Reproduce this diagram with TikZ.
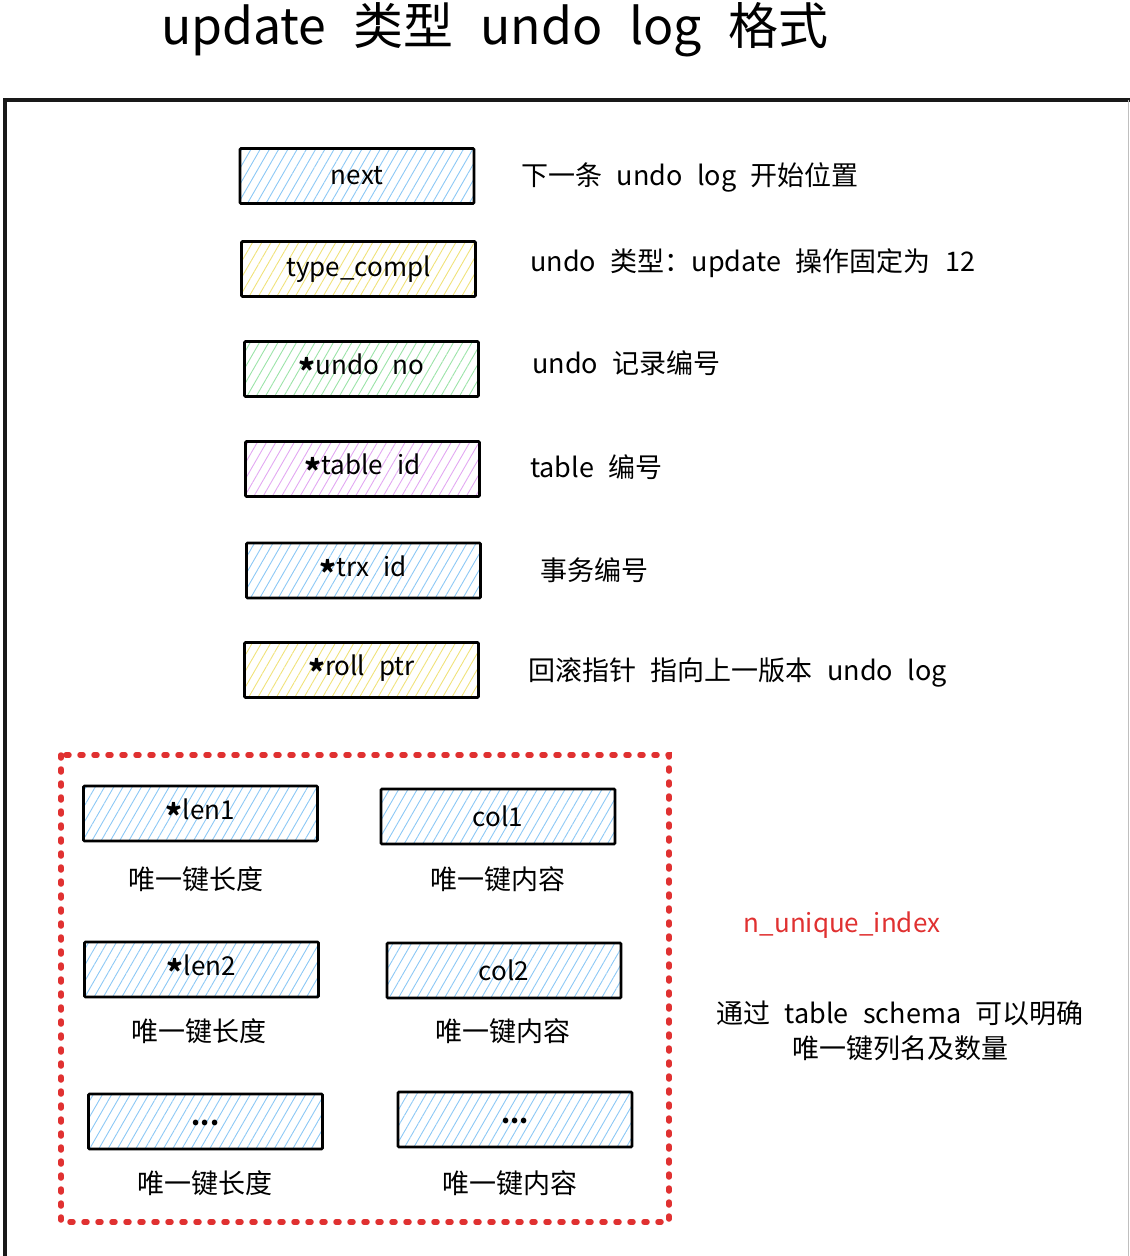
\documentclass[tikz,border=0pt]{standalone}
\usepackage{fontspec}
\setmainfont{Noto Sans CJK SC}[WordSpace=2.4]
\usetikzlibrary{patterns.meta}
\definecolor{hblue}{HTML}{8CC8F5}
\definecolor{hyellow}{HTML}{F0E27A}
\definecolor{hgreen}{HTML}{9BE3A8}
\definecolor{hviolet}{HTML}{E2A8F2}
\definecolor{dred}{HTML}{E03131}
\newcommand{\fstar}{\raisebox{-0.34em}{\fontsize{32}{32}\selectfont\textbf{*}}}
\newcommand{\fdots}{\raisebox{-0.3em}{\textbf{...}}}
\tikzset{
  field/.style={draw=black, line width=2.6pt, rounded corners=1pt,
    minimum width=234pt, minimum height=55pt, inner sep=0pt,
    font=\fontsize{26}{30}\selectfont,
    pattern={Lines[angle=60,distance=8pt,line width=0.9pt]}},
  fblue/.style={field, pattern color=hblue},
  fyellow/.style={field, pattern color=hyellow},
  fgreen/.style={field, pattern color=hgreen},
  fviolet/.style={field, pattern color=hviolet},
  desc/.style={anchor=west, inner sep=0pt, font=\fontsize{27}{32}\selectfont},
  sub/.style={inner sep=0pt, font=\fontsize{27}{32}\selectfont},
}
\begin{document}
\begin{tikzpicture}[x=1pt,y=-1pt]
\useasboundingbox (0,0) rectangle (1130,1256);
% title
\node[inner sep=0pt, anchor=base, font=\fontsize{50}{56}\selectfont] (title) at (495,44) {update 类型 undo log 格式};
% outer frame
\draw[line width=4.5pt, black!90] (5,1256) -- (5,100) -- (1130,100);
\draw[line width=1pt, black!25] (1128,100) -- (1128,1256);
% fields
\node[fblue]   (next) at (357,176)   {next};
\node[fyellow] (type) at (358.5,269) {type\_compl};
\node[fgreen]  (undo) at (361.5,369) {\fstar undo no};
\node[fviolet] (tab)  at (362.5,469) {\fstar table id};
\node[fblue]   (trx)  at (363.5,570.5) {\fstar trx id};
\node[fyellow] (roll) at (361.5,670) {\fstar roll ptr};
% descriptions
\node[desc] (dnext) at (521,177) {下一条 undo log 开始位置};
\node[desc] (dtype) at (530,263) {undo 类型：update 操作固定为 12};
\node[desc] (dundo) at (532,363) {undo 记录编号};
\node[desc] (dtab)  at (530,467) {table 编号};
\node[desc] (dtrx)  at (540,570) {事务编号};
\node[desc] (droll) at (528,672) {回滚指针 指向上一版本 undo log};
% unique index group
\draw[dred, line width=5.5pt, dash pattern=on 3pt off 11pt, line cap=round] (61,755) rectangle (669,1222);
\node[fblue] (len1) at (200.5,813.5) {\fstar len1};
\node[fblue] (col1) at (498,816.5) {col1};
\node[fblue] (len2) at (201.5,969.5) {\fstar len2};
\node[fblue] (col2) at (504,970.5) {col2};
\node[fblue] (dot1) at (205.5,1121.5) {\fdots};
\node[fblue] (dot2) at (515,1119.5) {\fdots};
\node[sub] (slen1) at (196,879) {唯一键长度};
\node[sub] (scol1) at (498,879) {唯一键内容};
\node[sub] (slen2) at (199,1031) {唯一键长度};
\node[sub] (scol2) at (503,1031) {唯一键内容};
\node[sub] (sdot1) at (205,1183) {唯一键长度};
\node[sub] (sdot2) at (510,1183) {唯一键内容};
% side notes
\node[inner sep=0pt, text=dred, font=\fontsize{26}{30}\selectfont] (nui) at (842,925) {n\_unique\_index};
\node[inner sep=0pt, font=\fontsize{27}{35}\selectfont, align=center] (schema) at (900,1031) {通过 table schema 可以明确\\唯一键列名及数量};
\end{tikzpicture}
\end{document}
